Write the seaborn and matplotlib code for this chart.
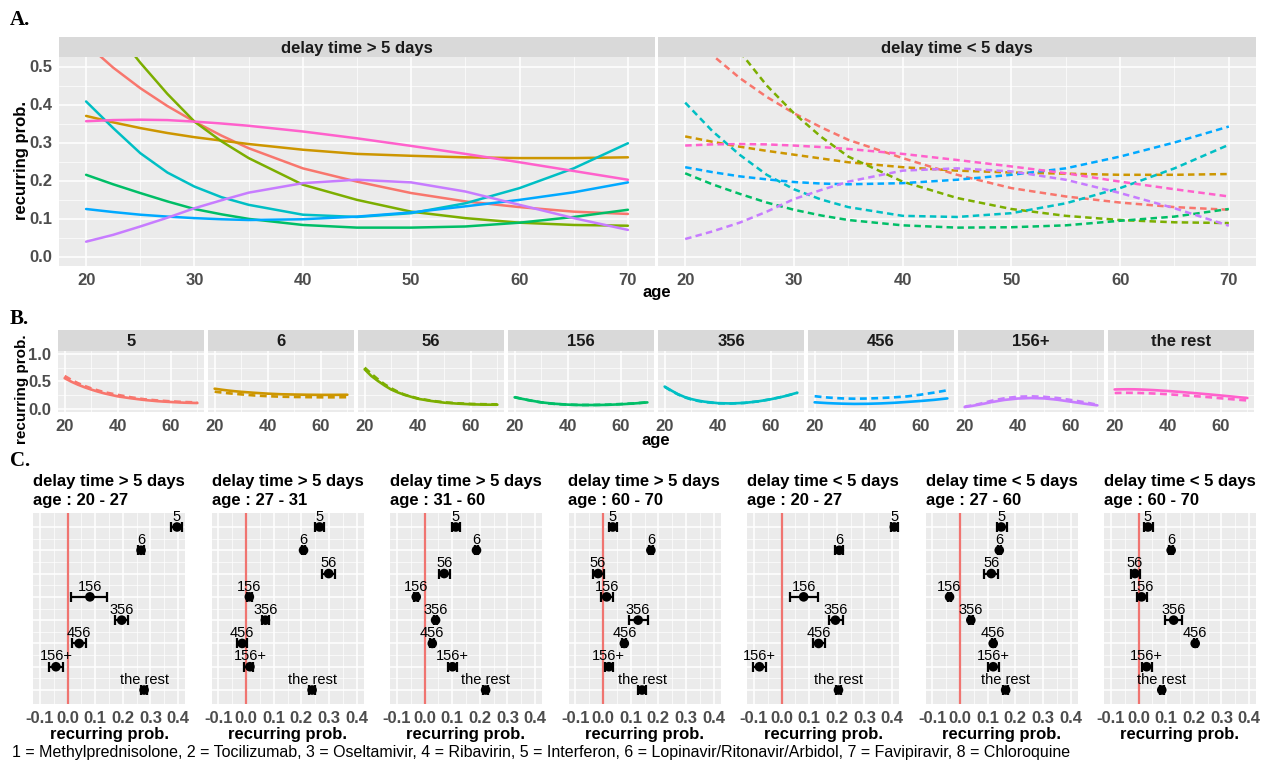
import numpy as np
import pandas as pd
import matplotlib
matplotlib.use('Agg')
import matplotlib.pyplot as plt
from matplotlib.ticker import MultipleLocator
import seaborn as sns

W, H = 1262, 763
drugs = ['5', '6', '56', '156', '356', '456', '156+', 'the rest']
palette = ['#F8766D', '#CD9600', '#7CAE00', '#00BE67', '#00BFC4', '#00A9FF', '#C77CFF', '#FF61CC']
ages = [20, 22.5, 25, 27.5, 30, 32.5, 35, 40, 45, 50, 55, 60, 65, 70]

# delay time > 5 days (solid lines)
late_5 = [0.56, 0.497, 0.443, 0.396, 0.355, 0.318, 0.285, 0.232, 0.197, 0.167, 0.145, 0.130, 0.118, 0.112]
late_6 = [0.370, 0.353, 0.338, 0.325, 0.314, 0.305, 0.296, 0.281, 0.270, 0.265, 0.261, 0.259, 0.259, 0.261]
late_56 = [0.72, 0.60, 0.51, 0.428, 0.355, 0.303, 0.259, 0.189, 0.149, 0.118, 0.101, 0.089, 0.083, 0.081]
late_156 = [0.215, 0.190, 0.167, 0.145, 0.125, 0.111, 0.099, 0.083, 0.076, 0.076, 0.079, 0.089, 0.104, 0.123]
late_356 = [0.408, 0.338, 0.272, 0.221, 0.184, 0.156, 0.136, 0.110, 0.104, 0.114, 0.140, 0.180, 0.232, 0.298]
late_456 = [0.125, 0.117, 0.110, 0.105, 0.101, 0.098, 0.096, 0.098, 0.105, 0.116, 0.132, 0.149, 0.169, 0.195]
late_156p = [0.039, 0.057, 0.079, 0.102, 0.127, 0.148, 0.168, 0.193, 0.202, 0.195, 0.171, 0.136, 0.101, 0.070]
late_rest = [0.356, 0.359, 0.360, 0.359, 0.355, 0.350, 0.344, 0.329, 0.311, 0.291, 0.270, 0.248, 0.225, 0.202]

# delay time < 5 days (dashed lines)
early_5 = [0.60, 0.53, 0.47, 0.42, 0.377, 0.340, 0.307, 0.259, 0.215, 0.180, 0.158, 0.142, 0.130, 0.123]
early_6 = [0.316, 0.302, 0.289, 0.278, 0.268, 0.258, 0.248, 0.235, 0.226, 0.221, 0.218, 0.215, 0.215, 0.217]
early_56 = [0.75, 0.64, 0.54, 0.45, 0.377, 0.315, 0.263, 0.197, 0.154, 0.125, 0.107, 0.096, 0.090, 0.088]
early_156 = [0.219, 0.190, 0.165, 0.142, 0.123, 0.108, 0.096, 0.082, 0.076, 0.077, 0.082, 0.094, 0.105, 0.125]
early_356 = [0.405, 0.330, 0.268, 0.215, 0.177, 0.150, 0.130, 0.107, 0.104, 0.114, 0.140, 0.180, 0.232, 0.294]
early_456 = [0.235, 0.222, 0.211, 0.203, 0.196, 0.192, 0.190, 0.193, 0.202, 0.215, 0.232, 0.263, 0.300, 0.342]
early_156p = [0.046, 0.066, 0.089, 0.118, 0.151, 0.175, 0.197, 0.226, 0.232, 0.224, 0.202, 0.167, 0.127, 0.081]
early_rest = [0.292, 0.295, 0.296, 0.295, 0.292, 0.288, 0.283, 0.270, 0.254, 0.237, 0.219, 0.197, 0.177, 0.158]

late_series = [late_5, late_6, late_56, late_156, late_356, late_456, late_156p, late_rest]
early_series = [early_5, early_6, early_56, early_156, early_356, early_456, early_156p, early_rest]
delay_labels = ['delay time > 5 days', 'delay time < 5 days']

# Panel C: estimates and intervals per subgroup (order of drugs list)
c_delay = ['delay time > 5 days'] * 4 + ['delay time < 5 days'] * 3
c_age = ['age : 20 - 27', 'age : 27 - 31', 'age : 31 - 60', 'age : 60 - 70',
         'age : 20 - 27', 'age : 27 - 60', 'age : 60 - 70']
nan = np.nan
c_est_1 = [0.396, 0.266, nan, 0.081, 0.196, 0.042, -0.042, 0.277]
c_lo_1 = [0.373, 0.255, nan, 0.014, 0.170, 0.016, -0.067, 0.265]
c_hi_1 = [0.414, 0.277, nan, 0.143, 0.218, 0.068, -0.017, 0.289]
c_est_2 = [0.266, 0.208, 0.299, 0.012, 0.070, -0.014, 0.014, 0.239]
c_lo_2 = [0.250, 0.204, 0.275, 0.003, 0.058, -0.033, -0.008, 0.227]
c_hi_2 = [0.282, 0.212, 0.323, 0.021, 0.082, 0.002, 0.026, 0.251]
c_est_3 = [0.113, 0.188, 0.071, -0.030, 0.040, 0.028, 0.101, 0.221]
c_lo_3 = [0.098, 0.183, 0.051, -0.037, 0.034, 0.020, 0.085, 0.212]
c_hi_3 = [0.130, 0.193, 0.091, -0.023, 0.046, 0.036, 0.118, 0.230]
c_est_4 = [0.035, 0.173, -0.018, 0.013, 0.127, 0.077, 0.021, 0.141]
c_lo_4 = [0.020, 0.167, -0.037, -0.006, 0.093, 0.070, 0.006, 0.128]
c_hi_4 = [0.051, 0.179, 0.002, 0.037, 0.161, 0.084, 0.037, 0.154]
c_est_5 = [0.408, 0.209, nan, 0.080, 0.195, 0.134, -0.080, 0.206]
c_lo_5 = [0.395, 0.195, nan, 0.032, 0.170, 0.115, -0.103, 0.198]
c_hi_5 = [0.420, 0.223, nan, 0.133, 0.222, 0.156, -0.058, 0.214]
c_est_6 = [0.149, 0.142, 0.113, -0.038, 0.039, 0.120, 0.120, 0.165]
c_lo_6 = [0.132, 0.137, 0.086, -0.044, 0.032, 0.114, 0.101, 0.157]
c_hi_6 = [0.170, 0.147, 0.137, -0.032, 0.046, 0.126, 0.142, 0.173]
c_est_7 = [0.034, 0.118, -0.013, 0.011, 0.127, 0.205, 0.029, 0.084]
c_lo_7 = [0.019, 0.112, -0.029, -0.006, 0.095, 0.200, 0.013, 0.077]
c_hi_7 = [0.052, 0.124, 0.006, 0.029, 0.158, 0.210, 0.047, 0.091]
c_est = [c_est_1, c_est_2, c_est_3, c_est_4, c_est_5, c_est_6, c_est_7]
c_lo = [c_lo_1, c_lo_2, c_lo_3, c_lo_4, c_lo_5, c_lo_6, c_lo_7]
c_hi = [c_hi_1, c_hi_2, c_hi_3, c_hi_4, c_hi_5, c_hi_6, c_hi_7]

footer = ('1 = Methylprednisolone, 2 = Tocilizumab, 3 = Oseltamivir, 4 = Ribavirin, '
          '5 = Interferon, 6 = Lopinavir/Ritonavir/Arbidol, 7 = Favipiravir, 8 = Chloroquine')

# ---------------------------------------------------------------- data frame
rows = []
for d, s_late, s_early in zip(drugs, late_series, early_series):
    for a, v in zip(ages, s_late):
        rows.append(dict(age=a, prob=v, drug=d, delay=delay_labels[0]))
    for a, v in zip(ages, s_early):
        rows.append(dict(age=a, prob=v, drug=d, delay=delay_labels[1]))
df = pd.DataFrame(rows)

sns.set_theme(style='darkgrid')
plt.rcParams['font.family'] = ['Liberation Sans', 'DejaVu Sans']
plt.rcParams['font.weight'] = 'bold'
plt.rcParams['axes.labelweight'] = 'bold'

fig = plt.figure(figsize=(W / 100, H / 100), dpi=100)
fig.patch.set_facecolor('white')

BG = '#EBEBEB'
STRIP = '#D9D9D9'
TICKC = '#4D4D4D'


def px_axes(x0, y0, x1, y1):
    return fig.add_axes([x0 / W, 1 - y1 / H, (x1 - x0) / W, (y1 - y0) / H])


def fx(x):
    return x / W


def fy(y):
    return 1 - y / H


def style_ax(ax):
    ax.set_facecolor(BG)
    for sp in ax.spines.values():
        sp.set_visible(False)
    ax.grid(True, which='major', color='white', lw=1.1)
    ax.grid(True, which='minor', color='white', lw=0.5)
    ax.set_axisbelow(True)
    ax.tick_params(which='major', length=3, width=0.8, color='#333333',
                   labelsize=12, labelcolor=TICKC, pad=2)
    ax.tick_params(which='minor', length=0)
    ax.set_xlabel('')
    ax.set_ylabel('')


def strip(x0, y0, x1, y1, text):
    s = px_axes(x0, y0, x1, y1)
    s.set_facecolor(STRIP)
    for sp in s.spines.values():
        sp.set_visible(False)
    s.set_xticks([])
    s.set_yticks([])
    s.grid(False)
    s.text(0.5, 0.45, text, ha='center', va='center', fontsize=12,
           fontweight='bold', color='#1A1A1A', transform=s.transAxes)


dash_map = {delay_labels[0]: '', delay_labels[1]: (2.6, 1.7)}

# ---------------------------------------------------------------- panel A
a_boxes = [(59, 57, 655, 266), (658, 57, 1256, 266)]
for k, (x0, y0, x1, y1) in enumerate(a_boxes):
    ax = px_axes(x0, y0, x1, y1)
    sub = df[df['delay'] == delay_labels[k]]
    sns.lineplot(data=sub, x='age', y='prob', hue='drug', hue_order=drugs,
                 palette=palette, style='delay', dashes=dash_map,
                 errorbar=None, legend=False, lw=1.8, ax=ax)
    style_ax(ax)
    ax.set_xlim(17.5, 72.5)
    ax.set_ylim(-0.025, 0.525)
    ax.set_xticks([20, 30, 40, 50, 60, 70])
    ax.xaxis.set_minor_locator(MultipleLocator(5))
    ax.set_yticks([0.0, 0.1, 0.2, 0.3, 0.4, 0.5])
    ax.yaxis.set_minor_locator(MultipleLocator(0.05))
    ax.set_yticklabels(['0.0', '0.1', '0.2', '0.3', '0.4', '0.5'])
    if k == 1:
        ax.tick_params(axis='y', left=False, labelleft=False)
    strip(x0, 37, x1, y0, delay_labels[k])

fig.text(fx(22), fy(161), 'recurring prob.', rotation=90, ha='center', va='center',
         fontsize=12, fontweight='bold', color='black')
fig.text(fx(657), fy(293), 'age', ha='center', va='center', fontsize=12,
         fontweight='bold', color='black')
fig.text(fx(10), fy(20), 'A.', ha='left', va='center', fontsize=15,
         fontweight='bold', family=['Liberation Serif', 'DejaVu Serif'], color='black')

# ---------------------------------------------------------------- panel B
for i, d in enumerate(drugs):
    x0 = 58 + 150 * i
    x1 = x0 + 146
    ax = px_axes(x0, 351, x1, 412)
    sub = df[df['drug'] == d]
    sns.lineplot(data=sub, x='age', y='prob', hue='drug', hue_order=[d],
                 palette=[palette[i]], style='delay', style_order=delay_labels,
                 dashes=dash_map, errorbar=None, legend=False, lw=1.9, ax=ax)
    style_ax(ax)
    ax.set_xlim(17.5, 72.5)
    ax.set_ylim(-0.05, 1.05)
    ax.set_xticks([20, 40, 60])
    ax.xaxis.set_minor_locator(MultipleLocator(10))
    ax.set_yticks([0.0, 0.5, 1.0])
    ax.yaxis.set_minor_locator(MultipleLocator(0.25))
    ax.set_yticklabels(['0.0', '0.5', '1.0'])
    if i > 0:
        ax.tick_params(axis='y', left=False, labelleft=False)
    strip(x0, 330, x1, 351, d)

fig.text(fx(22), fy(389), 'recurring prob.', rotation=90, ha='center', va='center',
         fontsize=11, fontweight='bold', color='black')
fig.text(fx(656), fy(441), 'age', ha='center', va='center', fontsize=12,
         fontweight='bold', color='black')
fig.text(fx(10), fy(319), 'B.', ha='left', va='center', fontsize=15,
         fontweight='bold', family=['Liberation Serif', 'DejaVu Serif'], color='black')

# ---------------------------------------------------------------- panel C
row_pos = np.arange(1, len(drugs) + 1)
for j in range(7):
    x0 = 33 + 178.5 * j
    x1 = x0 + 152
    ax = px_axes(x0, 513, x1, 704)
    est = np.array(c_est[j], dtype=float)
    lo = np.array(c_lo[j], dtype=float)
    hi = np.array(c_hi[j], dtype=float)
    ok = ~np.isnan(est)
    cdf = pd.DataFrame(dict(est=est[ok], row=row_pos[ok]))
    ax.axvline(0, color='#F07470', lw=1.6, zorder=1)
    ax.errorbar(est[ok], row_pos[ok], xerr=[est[ok] - lo[ok], hi[ok] - est[ok]],
                fmt='none', ecolor='black', elinewidth=1.6, capsize=3.4,
                capthick=1.6, zorder=2)
    sns.scatterplot(data=cdf, x='est', y='row', color='black', s=48,
                    edgecolor='none', zorder=3, ax=ax, legend=False)
    for r, e, name in zip(row_pos[ok], est[ok], np.array(drugs)[ok]):
        t = ax.annotate(name, (e, r), xytext=(0, 4.5), textcoords='offset points',
                        ha='center', va='baseline', fontsize=10.5,
                        fontweight='normal', color='black', annotation_clip=False)
        t.set_clip_on(True)
    style_ax(ax)
    ax.set_xlim(-0.125, 0.425)
    ax.set_ylim(8.6, 0.4)
    ax.set_xticks([-0.1, 0.0, 0.1, 0.2, 0.3, 0.4])
    ax.set_xticklabels(['-0.1', '0.0', '0.1', '0.2', '0.3', '0.4'])
    ax.xaxis.set_minor_locator(MultipleLocator(0.05))
    ax.set_yticks(row_pos)
    ax.set_yticks(row_pos[:-1] + 0.5, minor=True)
    ax.tick_params(axis='y', left=False, labelleft=False)
    ax.tick_params(axis='x', labelcolor=TICKC, labelsize=12)
    fig.text(fx(x0 + 76), fy(735), 'recurring prob.', ha='center', va='center',
             fontsize=12, fontweight='bold', color='black')
    fig.text(fx(x0), fy(482), c_delay[j], ha='left', va='center', fontsize=12,
             fontweight='bold', color='black')
    fig.text(fx(x0), fy(500), c_age[j], ha='left', va='center', fontsize=12,
             fontweight='bold', color='black')

fig.text(fx(10), fy(461), 'C.', ha='left', va='center', fontsize=15,
         fontweight='bold', family=['Liberation Serif', 'DejaVu Serif'], color='black')
fig.text(fx(12), fy(752), footer, ha='left', va='center', fontsize=11.5,
         fontweight='normal', color='black')

fig.savefig('out.png', dpi=100, facecolor='white')
